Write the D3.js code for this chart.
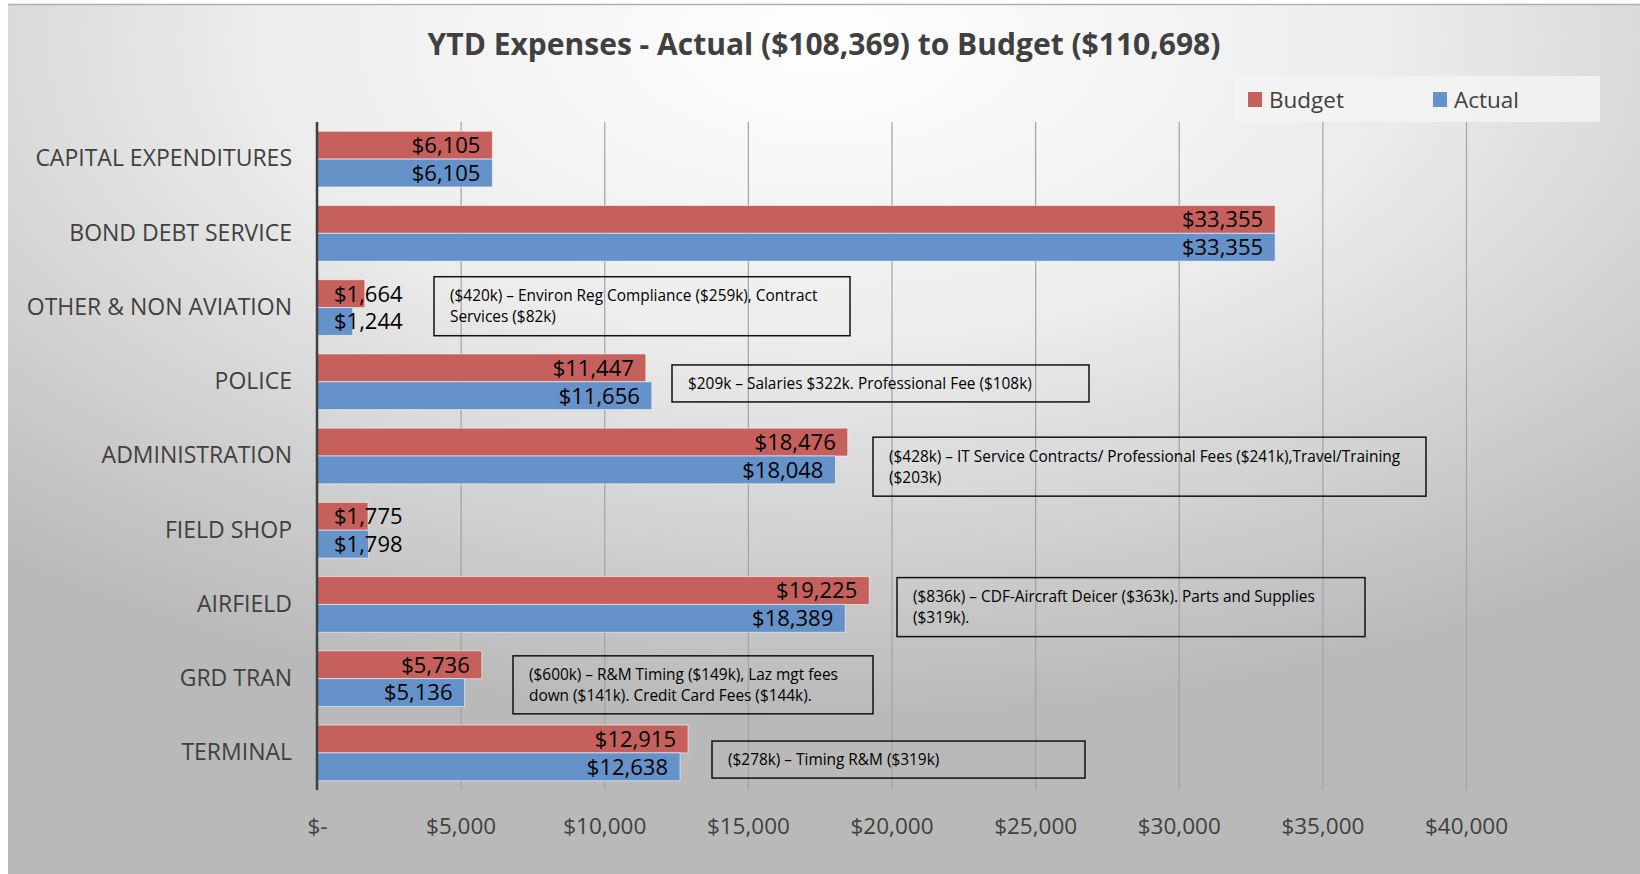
<!DOCTYPE html>
<html>
<head>
<meta charset="utf-8">
<script src="https://cdn.jsdelivr.net/npm/d3@7"></script>
<style>
  body { margin: 0; background: #fff; }
  text { font-family: "Open Sans", "Noto Sans", sans-serif; }
</style>
</head>
<body>
<div id="chart"></div>
<script>
// data
const categories = ["CAPITAL EXPENDITURES", "BOND DEBT SERVICE", "OTHER & NON AVIATION", "POLICE",
  "ADMINISTRATION", "FIELD SHOP", "AIRFIELD", "GRD TRAN", "TERMINAL"]
const budget = [6105, 33355, 1664, 11447, 18476, 1775, 19225, 5736, 12915]
const actual = [6105, 33355, 1244, 11656, 18048, 1798, 18389, 5136, 12638]
const seriesNames = ["Budget", "Actual"]
const xTicks = [0, 5000, 10000, 15000, 20000, 25000, 30000, 35000, 40000]
const titleText = "YTD Expenses - Actual ($108,369) to Budget ($110,698)"
const noteCats = ["OTHER & NON AVIATION", "POLICE", "ADMINISTRATION", "AIRFIELD", "GRD TRAN", "TERMINAL"]
const noteLines = [
  ["($420k) \u2013 Environ Reg Compliance ($259k), Contract", "Services ($82k)"],
  ["$209k \u2013 Salaries $322k. Professional Fee ($108k)"],
  ["($428k) \u2013 IT Service Contracts/ Professional Fees ($241k),Travel/Training", "($203k)"],
  ["($836k) \u2013 CDF-Aircraft Deicer ($363k). Parts and Supplies", "($319k)."],
  ["($600k) \u2013 R&M Timing ($149k), Laz mgt fees", "down ($141k). Credit Card Fees ($144k)."],
  ["($278k) \u2013 Timing R&M ($319k)"]
]

// layout of the note boxes (pixels, left edge / width, offset from the category band / height)
const noteBox = [
  {left: 434, w: 416, dy: -3, h: 59},
  {left: 672, w: 417, dy: 11, h: 37},
  {left: 873, w: 553, dy: 9, h: 59},
  {left: 897, w: 468, dy: 1, h: 59},
  {left: 513, w: 360, dy: 5, h: 58},
  {left: 712, w: 373, dy: 16, h: 37}
]

const W = 1640, H = 874
const plot = {left: 317, right: 1466, top: 122, bottom: 790}
const colors = {Budget: "#c6605d", Actual: "#6592c8"}

const svg = d3.select("#chart").append("svg").attr("width", W).attr("height", H)

const defs = svg.append("defs")
const grad = defs.append("radialGradient").attr("id", "bg")
  .attr("cx", "50%").attr("cy", "4%").attr("r", "78%").attr("fx", "50%").attr("fy", "4%")
grad.append("stop").attr("offset", "0%").attr("stop-color", "#ffffff")
grad.append("stop").attr("offset", "45%").attr("stop-color", "#ececec")
grad.append("stop").attr("offset", "100%").attr("stop-color", "#b9b9b9")

svg.append("rect").attr("x", 8).attr("y", 4).attr("width", W - 8).attr("height", H - 4).attr("fill", "url(#bg)")
svg.append("line").attr("x1", 8).attr("x2", W).attr("y1", 4.5).attr("y2", 4.5).attr("stroke", "#b0b0b0").attr("stroke-width", 1.5)

const x = d3.scaleLinear().domain([0, 40000]).range([plot.left, plot.right])
const y = d3.scaleBand().domain(categories).range([plot.top, plot.bottom]).paddingInner(0.25).paddingOuter(0.125)
const ySub = d3.scaleBand().domain(seriesNames).range([0, y.bandwidth()])

// x axis with gridlines
const xAxis = d3.axisBottom(x).tickValues(xTicks).tickSize(-(plot.bottom - plot.top)).tickPadding(28)
  .tickFormat(d => d === 0 ? "$-" : d3.format("$,")(d))
const xg = svg.append("g").attr("transform", `translate(0,${plot.bottom})`).call(xAxis)
xg.select(".domain").remove()
xg.selectAll(".tick line").attr("stroke", "#a3a3a3").attr("stroke-width", 1.2)
xg.selectAll(".tick text").attr("fill", "#404040").style("font-size", "22.5px")

// bars
const rows = categories.map((c, i) => ({cat: c, Budget: budget[i], Actual: actual[i]}))
const groups = svg.selectAll("g.row").data(rows).enter().append("g").attr("class", "row")
  .attr("transform", d => `translate(0,${y(d.cat)})`)

groups.selectAll("rect").data(d => seriesNames.map(s => ({s, v: d[s]}))).enter().append("rect")
  .attr("x", x(0))
  .attr("y", d => ySub(d.s))
  .attr("width", d => x(d.v) - x(0))
  .attr("height", ySub.bandwidth())
  .attr("fill", d => colors[d.s])
  .attr("stroke", "rgba(255,255,255,0.55)")
  .attr("stroke-width", 1)

const fmt = d3.format("$,")
groups.selectAll("text.val").data(d => seriesNames.map(s => ({s, v: d[s]}))).enter().append("text")
  .attr("class", "val")
  .attr("y", d => ySub(d.s) + ySub.bandwidth() / 2)
  .attr("dy", "0.36em")
  .attr("fill", "#000")
  .style("font-size", "22px")
  .text(d => fmt(d.v))
  .each(function(d) {
    const tw = this.getComputedTextLength()
    const end = Math.max(x(d.v) - 12, x(0) + 17 + tw)
    d3.select(this).attr("x", end).attr("text-anchor", "end")
  })

// category axis
const yAxis = d3.axisLeft(y).tickSize(0).tickPadding(25)
const yg = svg.append("g").attr("transform", `translate(${plot.left},0)`).call(yAxis)
yg.select(".domain").remove()
yg.selectAll(".tick text").attr("fill", "#404040").style("font-size", "23px")
svg.append("line").attr("x1", plot.left).attr("x2", plot.left)
  .attr("y1", plot.top).attr("y2", plot.bottom).attr("stroke", "#404040").attr("stroke-width", 2.5)

// notes
noteCats.forEach((c, i) => {
  const b = noteBox[i]
  const top = y(c) + b.dy
  const g = svg.append("g")
  g.append("rect").attr("x", b.left).attr("y", top).attr("width", b.w).attr("height", b.h)
    .attr("fill", "none").attr("stroke", "#111").attr("stroke-width", 1.5)
  const lines = noteLines[i]
  const lh = 21
  const firstY = top + b.h / 2 - (lines.length - 1) * lh / 2
  lines.forEach((t, j) => {
    g.append("text").attr("x", b.left + 16).attr("y", firstY + j * lh).attr("dy", "0.36em")
      .style("font-size", "15.4px").attr("fill", "#000").text(t)
  })
})

// title
svg.append("text").attr("x", 824).attr("y", 55).attr("text-anchor", "middle")
  .style("font-size", "30px").style("font-weight", "bold").attr("fill", "#404040").text(titleText)

// legend
const lg = svg.append("g")
lg.append("rect").attr("x", 1234).attr("y", 76).attr("width", 366).attr("height", 46).attr("fill", "#f3f3f3").attr("opacity", 0.85)
const legX = {Budget: 1248, Actual: 1433}
seriesNames.forEach(s => {
  lg.append("rect").attr("x", legX[s]).attr("y", 92).attr("width", 14).attr("height", 15).attr("fill", colors[s])
  lg.append("text").attr("x", legX[s] + 21).attr("y", 99.5).attr("dy", "0.36em")
    .style("font-size", "22.5px").attr("fill", "#404040").text(s)
})
</script>
</body>
</html>
